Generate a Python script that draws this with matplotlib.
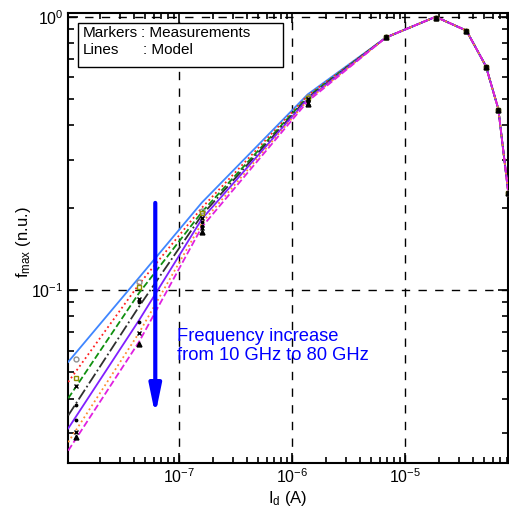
import matplotlib
matplotlib.use("Agg")
import matplotlib.pyplot as plt
from matplotlib.patches import Rectangle

plt.rcParams['font.family'] = ['Liberation Sans', 'DejaVu Sans']
plt.rcParams['mathtext.default'] = 'regular'

# Drain current points (A) of model and measurements
id_model = [1.05e-8, 4.45e-8, 1.6e-7, 1.38e-6, 6.8e-6, 1.87e-5, 3.5e-5, 5.2e-5, 6.7e-5, 8.4e-5]
id_meas = [1.24e-8, 4.45e-8, 1.6e-7, 1.38e-6, 6.8e-6, 1.87e-5, 3.5e-5, 5.2e-5, 6.7e-5, 8.2e-5]

# common high current part (normalised fmax)
tail_model = [0.84, 1.0, 0.89, 0.66, 0.46, 0.21]
tail_meas = [0.845, 0.99, 0.885, 0.655, 0.455, 0.227]

# model lines, 10 GHz ... 80 GHz (low current part)
model_low = [
    [0.0545, 0.111, 0.209, 0.52],
    [0.0460, 0.105, 0.200, 0.515],
    [0.0401, 0.0975, 0.193, 0.51],
    [0.0347, 0.0870, 0.188, 0.505],
    [0.0311, 0.0775, 0.182, 0.50],
    [0.0277, 0.0697, 0.176, 0.495],
    [0.0258, 0.0646, 0.170, 0.49],
]
# measurements (low current part)
meas_low = [
    [0.0558, 0.107, 0.195, 0.51],
    [0.0475, 0.1026, 0.192, 0.505],
    [0.0444, 0.0927, 0.184, 0.50],
    [0.0378, 0.0904, 0.178, 0.495],
    [0.0335, 0.0763, 0.172, 0.49],
    [0.0303, 0.0695, 0.168, 0.485],
    [0.0290, 0.0633, 0.163, 0.48],
]

line_colors = ['#3f86ff', '#ff2020', '#109010', '#303030', '#8020ff', '#ff8c30', '#e020e0']
line_styles = ['-', ':', '--', '-.', '-', ':', '--']
mk_styles = ['o', 's', 'x', '.', '.', 'x', '^']
mk_colors = ['#909090', '#909000', 'k', 'k', 'k', 'k', 'k']

fig = plt.figure(figsize=(5.09, 5.13), dpi=100)
ax = fig.add_axes([0.134, 0.098, 0.864, 0.877])

for i in range(len(model_low)):
    ax.plot(id_model, model_low[i] + tail_model, color=line_colors[i],
            ls=line_styles[i], lw=1.3, zorder=3)
for i in range(len(meas_low)):
    ax.plot(id_meas, meas_low[i] + tail_meas, ls='none', marker=mk_styles[i],
            ms=3.5, mfc='none' if mk_styles[i] in 'os' else mk_colors[i],
            mec=mk_colors[i], mew=1.0, zorder=4)

ax.set_xscale('log')
ax.set_yscale('log')
ax.set_xlim(1.05e-8, 8.16e-5)
ax.set_ylim(0.0233, 1.034)

ax.grid(True, which='major', color='k', ls=(0, (6, 6)), lw=1.0)
ax.tick_params(which='both', direction='in', top=True, right=True, labelsize=11.5, width=1.2)
ax.tick_params(which='major', length=7)
ax.tick_params(which='minor', length=4)
for s in ax.spines.values():
    s.set_linewidth(1.5)

ax.set_xlabel('I$_{d}$ (A)', fontsize=12, labelpad=2)
ax.set_ylabel('f$_{max}$ (n.u.)', fontsize=12)
ax.yaxis.set_label_coords(-0.080, 0.49)

# legend-like box
ax.add_patch(Rectangle((0.0227, 0.8793), 0.4648, 0.0978, transform=ax.transAxes,
                       fill=True, fc='white', ec='k', lw=1.0, zorder=5))
ax.text(0.0328, 0.9549, 'Markers', transform=ax.transAxes, fontsize=11, va='center', zorder=6)
ax.text(0.166, 0.9549, ': Measurements', transform=ax.transAxes, fontsize=11, va='center', zorder=6)
ax.text(0.0328, 0.9177, 'Lines', transform=ax.transAxes, fontsize=11, va='center', zorder=6)
ax.text(0.171, 0.9177, ': Model', transform=ax.transAxes, fontsize=11, va='center', zorder=6)

ax.annotate('', xy=(0.198, 0.106), xytext=(0.198, 0.5775), xycoords='axes fraction',
            arrowprops=dict(arrowstyle='-|>,head_length=1.7,head_width=0.35',
                            color='#0000ff', lw=3, shrinkA=0, shrinkB=0), zorder=6)
ax.text(0.248, 0.2595, 'Frequency increase\nfrom 10 GHz to 80 GHz', transform=ax.transAxes,
        color='#0000ff', fontsize=13.2, va='center', ha='left', linespacing=1.2, zorder=6)

fig.savefig('out.png', dpi=100)
